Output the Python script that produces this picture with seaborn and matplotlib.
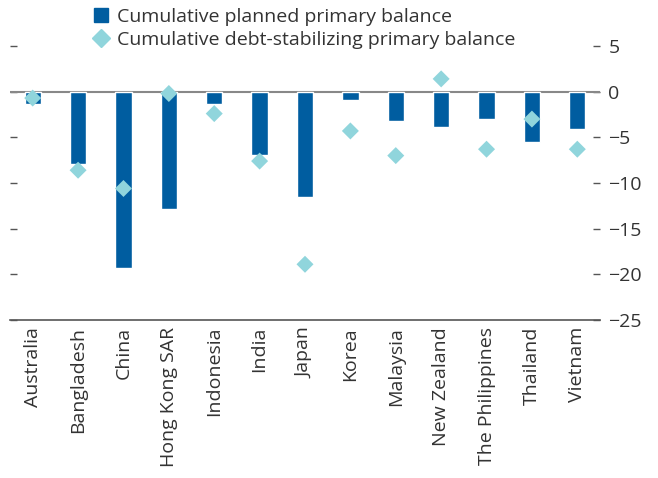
import numpy as np
import pandas as pd
import matplotlib
matplotlib.use("Agg")
import matplotlib.pyplot as plt
import seaborn as sns
from matplotlib.lines import Line2D
from matplotlib.ticker import FixedLocator

# datos
countries = ["Australia", "Bangladesh", "China", "Hong Kong SAR", "Indonesia", "India", "Japan",
             "Korea", "Malaysia", "New Zealand", "The Philippines", "Thailand", "Vietnam"]
planned = [-1.4, -7.9, -19.3, -12.8, -1.4, -6.9, -11.5, -0.9, -3.2, -3.9, -3.0, -5.5, -4.1]
debt_stab = [-0.7, -8.6, -10.6, -0.2, -2.4, -7.6, -18.9, -4.3, -7.0, 1.4, -6.3, -3.0, -6.3]
yticks = [5, 0, -5, -10, -15, -20, -25]

df = pd.DataFrame({"country": countries, "planned": planned, "stab": debt_stab})

sns.set_style("white")
plt.rcParams["font.family"] = ["Open Sans", "DejaVu Sans"]
plt.rcParams["axes.unicode_minus"] = True

bar_color = "#005DA0"
dia_color = "#90D5DC"
axis_color = "#555555"
text_color = "#333333"

fig = plt.figure(figsize=(6.58, 4.78), dpi=100)
ax = fig.add_axes([10 / 658, 1 - 320 / 478, 590 / 658, (320 - 46) / 478])

sns.barplot(data=df, x="country", y="planned", color=bar_color, width=0.36,
            saturation=1, ax=ax, zorder=2)
ax.axhline(0, color="#888888", lw=1.5, zorder=1)
sns.scatterplot(data=df, x="country", y="stab", marker="D", s=75, color=dia_color,
                edgecolor="none", ax=ax, zorder=3)

ax.set_xlim(-0.5, len(countries) - 0.5)
ax.set_ylim(-25, 5)
ax.set_yticks(yticks)
ax.set_xlabel("")
ax.set_ylabel("")

ax.tick_params(axis="y", left=True, right=True, labelleft=False, labelright=True,
               direction="in", length=5, width=1, color=axis_color, labelsize=14,
               labelcolor=text_color, pad=6)
ax.tick_params(axis="x", which="major", length=0, labelsize=14, labelcolor=text_color,
               rotation=90, pad=5)
ax.xaxis.set_minor_locator(FixedLocator(np.arange(-0.5, len(countries), 1.0)))
ax.tick_params(axis="x", which="minor", direction="in", length=7, width=1, color=axis_color)

for s in ["left", "top", "right"]:
    ax.spines[s].set_visible(False)
ax.spines["bottom"].set_color(axis_color)
ax.spines["bottom"].set_linewidth(1.2)

handles = [
    Line2D([], [], marker="s", linestyle="none", markersize=10, color=bar_color),
    Line2D([], [], marker="D", linestyle="none", markersize=9, color=dia_color),
]
fig.legend(handles, ["Cumulative planned primary balance",
                     "Cumulative debt-stabilizing primary balance"],
           loc="upper left", bbox_to_anchor=(80 / 658, 1 - 0 / 478), frameon=False,
           fontsize=14, labelspacing=0.28, handletextpad=0.1, handlelength=1.4,
           borderaxespad=0, labelcolor=text_color)

fig.savefig("out.png", dpi=100)
